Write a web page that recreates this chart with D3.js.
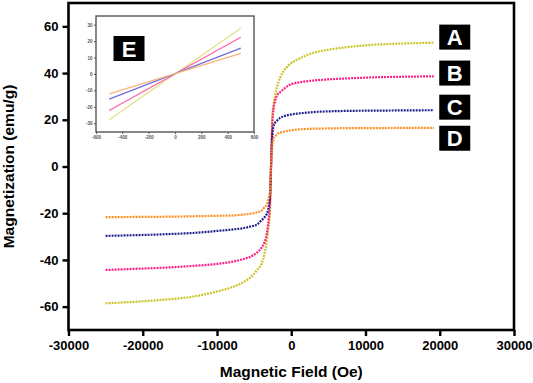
<!DOCTYPE html>
<html>
<head>
<meta charset="utf-8">
<script src="https://cdn.jsdelivr.net/npm/d3@7"></script>
<style>
  body { margin: 0; background: #fff; }
  svg { display: block; font-family: "Liberation Sans", Arial, sans-serif; }
</style>
</head>
<body>
<div id="chart"></div>
<script>
// main M-H curves, field in Oe, magnetization in emu/g
const fieldOe = [-25000, -21000, -17000, -13000, -10000, -8000, -6500, -5500, -4600, -4000,
                 -3600, -3300, -3050, -2850, -2750, -2650, -2550, -2400, -2200, -1900,
                 -1500, -1000, -300, 700, 1600, 3000, 5000, 7500, 10500, 14500, 19200];
const seriesA = [-58.6, -57.9, -57.0, -55.6, -53.5, -51.7, -49.6, -47.5, -44.3, -41.6,
                 -37.5, -31.8, -25.7, -18.8, -4.0, 9.0, 21.0, 26.0, 30.0, 34.3,
                 38.0, 41.0, 43.5, 45.6, 47.0, 48.7, 50.0, 51.1, 52.0, 52.6, 53.0];
const seriesB = [-44.3, -43.8, -43.3, -42.5, -41.7, -40.8, -39.7, -38.6, -36.8, -34.8,
                 -32.3, -29.0, -22.8, -14.6, -3.0, 8.0, 18.5, 24.5, 27.8, 30.5,
                 31.8, 33.2, 34.8, 35.8, 36.3, 36.8, 37.3, 37.7, 38.1, 38.4, 38.6];
const seriesC = [-29.7, -29.4, -29.0, -28.4, -27.6, -27.0, -26.4, -25.7, -24.8, -23.0,
                 -21.8, -20.3, -17.5, -12.0, -2.5, 7.0, 13.5, 17.0, 18.6, 19.7,
                 20.8, 21.5, 22.1, 22.6, 22.9, 23.3, 23.6, 23.8, 23.9, 24.0, 24.1];
const seriesD = [-21.7, -21.6, -21.5, -21.3, -21.1, -21.0, -20.6, -20.2, -19.6, -18.9,
                 -17.4, -16.2, -13.5, -10.5, -2.5, 5.0, 9.0, 11.5, 12.7, 13.8,
                 14.5, 14.9, 15.4, 15.8, 16.0, 16.2, 16.3, 16.4, 16.4, 16.5, 16.5];
const seriesNames = ["A", "B", "C", "D"];

// inset: low field linear region
const insetField = [-500, 500];
const insetA = [-27.8, 27.8];
const insetB = [-22.2, 22.4];
const insetC = [-15.3, 15.7];
const insetD = [-12.1, 12.5];

const xTicks = [-30000, -20000, -10000, 0, 10000, 20000, 30000];
const yTicks = [-60, -40, -20, 0, 20, 40, 60];
const insetXTicks = [-600, -400, -200, 0, 200, 400, 600];
const insetYTicks = [-30, -20, -10, 0, 10, 20, 30];

const colors = ["#c9c21f", "#ff1786", "#1c1c88", "#ff8a1c"];
const insetColors = ["#e4df86", "#ff62a8", "#6f6fdc", "#f7b57c"];

const W = 533, H = 383;
const margin = { top: 3, right: 19, bottom: 53, left: 68.5 },
      width = W - margin.left - margin.right,
      height = H - margin.top - margin.bottom;

const svg = d3.select("#chart").append("svg")
    .attr("width", W)
    .attr("height", H);

const g = svg.append("g")
    .attr("transform", "translate(" + margin.left + "," + margin.top + ")");

const x = d3.scaleLinear().domain([-30000, 30000]).range([0, width]);
const y = d3.scaleLinear().domain([-70, 70]).range([height, 0]);

const series = [seriesA, seriesB, seriesC, seriesD].map((vals, i) => ({
  name: seriesNames[i],
  points: fieldOe.map((f, j) => [f, vals[j]])
}));

const line = d3.line()
    .x(d => x(d[0]))
    .y(d => y(d[1]))
    .curve(d3.curveMonotoneX);

// curves (dotted)
g.selectAll(".curve")
  .data(series)
  .enter().append("path")
    .attr("class", "curve")
    .attr("d", d => line(d.points))
    .attr("fill", "none")
    .attr("stroke", (d, i) => colors[i])
    .attr("stroke-width", 2.2)
    .attr("stroke-dasharray", "1.9,1.1");

// axes (plain hyphen minus like the original)
const fmt = d => String(d);
const xAxis = g.append("g")
    .attr("transform", "translate(0," + height + ")")
    .call(d3.axisBottom(x).tickValues(xTicks).tickSize(6).tickPadding(5).tickFormat(fmt));
const yAxis = g.append("g")
    .call(d3.axisLeft(y).tickValues(yTicks).tickSize(6).tickPadding(4).tickFormat(fmt));

[xAxis, yAxis].forEach(a => {
  a.select(".domain").remove();
  a.selectAll(".tick line").attr("stroke", "#000").attr("stroke-width", 2.4);
  a.selectAll(".tick text")
    .attr("fill", "#000")
    .style("font-size", "13px")
    .style("font-weight", "bold")
    .style("font-family", "'Liberation Sans', Arial, sans-serif");
});

// frame
g.append("rect")
    .attr("width", width)
    .attr("height", height)
    .attr("fill", "none")
    .attr("stroke", "#000")
    .attr("stroke-width", 2.6);

// series tags
const tagY = [55.4, 40.0, 25.4, 12.1];
const tags = g.selectAll(".tag")
  .data(series)
  .enter().append("g")
    .attr("class", "tag")
    .attr("transform", (d, i) => "translate(" + (x(20000) - 0.5) + "," + (y(tagY[i]) - 12.5) + ")");
tags.append("rect")
    .attr("width", 31)
    .attr("height", 25)
    .attr("fill", "#000");
tags.append("text")
    .attr("x", 15.5)
    .attr("y", 20)
    .attr("text-anchor", "middle")
    .attr("fill", "#fff")
    .style("font-size", "22px")
    .style("font-weight", "bold")
    .text(d => d.name);

// axis titles
svg.append("text")
    .attr("x", margin.left + width / 2)
    .attr("y", 377)
    .attr("text-anchor", "middle")
    .style("font-size", "15.5px")
    .style("font-weight", "bold")
    .text("Magnetic Field (Oe)");

svg.append("text")
    .attr("transform", "rotate(-90)")
    .attr("x", -(margin.top + height / 2))
    .attr("y", 14)
    .attr("text-anchor", "middle")
    .style("font-size", "15.5px")
    .style("font-weight", "bold")
    .text("Magnetization (emu/g)");

// inset
const inset = { left: 96, top: 16, width: 158, height: 116 };
const ig = svg.append("g")
    .attr("transform", "translate(" + inset.left + "," + inset.top + ")");

ig.append("rect")
    .attr("width", inset.width)
    .attr("height", inset.height)
    .attr("fill", "#fff");

const ix = d3.scaleLinear().domain([-600, 600]).range([0, inset.width]);
const iy = d3.scaleLinear().domain([-35.3, 35.3]).range([inset.height, 0]);

const insetSeries = [insetA, insetB, insetC, insetD].map(vals => insetField.map((f, j) => [f, vals[j]]));
const iline = d3.line().x(d => ix(d[0])).y(d => iy(d[1]));

ig.selectAll(".iline")
  .data(insetSeries)
  .enter().append("path")
    .attr("class", "iline")
    .attr("d", iline)
    .attr("fill", "none")
    .attr("stroke", (d, i) => insetColors[i])
    .attr("stroke-width", 1.3);

const ixAxis = ig.append("g")
    .attr("transform", "translate(0," + inset.height + ")")
    .call(d3.axisBottom(ix).tickValues(insetXTicks).tickSize(2).tickPadding(2).tickFormat(fmt));
const iyAxis = ig.append("g")
    .call(d3.axisLeft(iy).tickValues(insetYTicks).tickSize(2).tickPadding(1.5).tickFormat(fmt));

[ixAxis, iyAxis].forEach(a => {
  a.select(".domain").remove();
  a.selectAll(".tick line").attr("stroke", "#555").attr("stroke-width", 1);
  a.selectAll(".tick text")
    .attr("fill", "#555")
    .style("font-size", "4.5px")
    .style("font-weight", "bold")
    .style("font-family", "'Liberation Sans', Arial, sans-serif");
});

ig.append("rect")
    .attr("width", inset.width)
    .attr("height", inset.height)
    .attr("fill", "none")
    .attr("stroke", "#555")
    .attr("stroke-width", 1.4);

const eTag = ig.append("g").attr("transform", "translate(17.5,20)");
eTag.append("rect")
    .attr("width", 31)
    .attr("height", 25)
    .attr("fill", "#000");
eTag.append("text")
    .attr("x", 15.5)
    .attr("y", 20.5)
    .attr("text-anchor", "middle")
    .attr("fill", "#fff")
    .style("font-size", "22px")
    .style("font-weight", "bold")
    .text("E");
</script>
</body>
</html>
